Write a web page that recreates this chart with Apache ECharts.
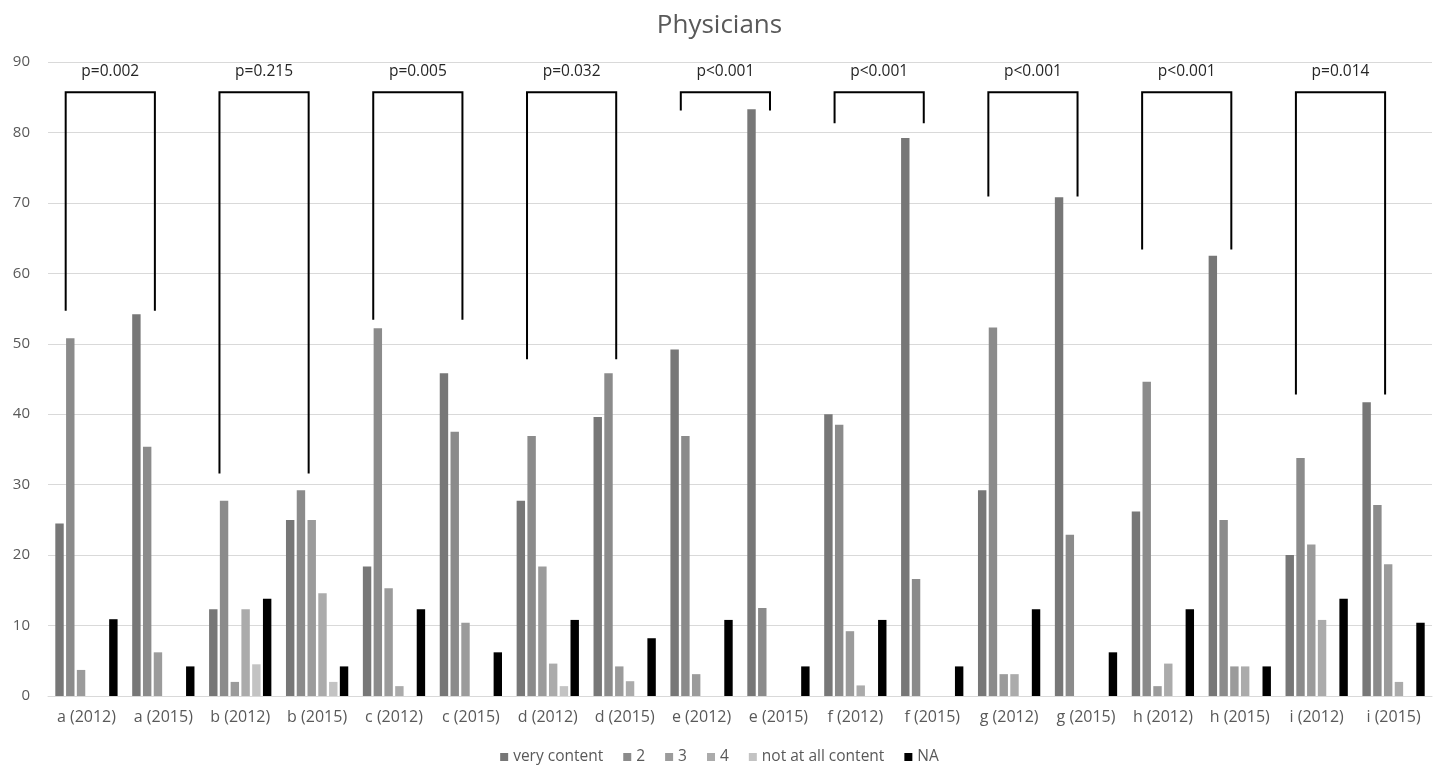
<!DOCTYPE html>
<html>
<head>
<meta charset="utf-8">
<script src="https://cdn.jsdelivr.net/npm/echarts@6/dist/echarts.min.js"></script>
<style>
html,body{margin:0;padding:0;background:#fff;}
#chart{width:1439px;height:765px;}
</style>
</head>
<body>
<div id="chart"></div>
<script>
const categories = ['a (2012)','a (2015)','b (2012)','b (2015)','c (2012)','c (2015)','d (2012)','d (2015)','e (2012)','e (2015)','f (2012)','f (2015)','g (2012)','g (2015)','h (2012)','h (2015)','i (2012)','i (2015)'];
const seriesNames = ['very content','2','3','4','not at all content','NA'];
const veryContent = [24.5,54.2,12.3,25.0,18.4,45.8,27.7,39.6,49.2,83.3,40.0,79.2,29.2,70.8,26.2,62.5,20.0,41.7];
const s2 = [50.8,35.4,27.7,29.2,52.2,37.5,36.9,45.8,36.9,12.5,38.5,16.6,52.3,22.9,44.6,25.0,33.8,27.1];
const s3 = [3.7,6.2,2.0,25.0,15.3,10.4,18.4,4.2,3.1,0,9.2,0,3.1,0,1.4,4.2,21.5,18.7];
const s4 = [0,0,12.3,14.6,1.4,0,4.6,2.1,0,0,1.5,0,3.1,0,4.6,4.2,10.8,2.0];
const notAtAll = [0,0,4.5,2.0,0,0,1.4,0,0,0,0,0,0,0,0,0,0,0];
const na = [10.9,4.2,13.8,4.2,12.3,6.2,10.8,8.2,10.8,4.2,10.8,4.2,12.3,6.2,12.3,4.2,13.8,10.4];
const yTicks = [0,10,20,30,40,50,60,70,80,90];

// significance brackets: pair of categories compared
const pLabels = ['p=0.002','p=0.215','p=0.005','p=0.032','p<0.001','p<0.001','p<0.001','p<0.001','p=0.014'];
const bracketLeft = [0,2,4,6,8,10,12,14,16];
const bracketRight = [1,3,5,7,9,11,13,15,17];
const bracketTop = [85.7,85.7,85.7,85.7,85.7,85.7,85.7,85.7,85.7];
const bracketLegEnd = [54.7,31.6,53.4,47.8,83.1,81.3,70.9,63.4,42.8];
const labelLevel = [88.6,88.6,88.6,88.6,88.6,88.6,88.6,88.6,88.6];

const colors = ['#777777','#8b8b8b','#9b9b9b','#ababab','#c3c3c3','#000000'];
const allData = [veryContent, s2, s3, s4, notAtAll, na];

const bracketData = pLabels.map((p,i)=>[bracketLeft[i],bracketRight[i],bracketTop[i],bracketLegEnd[i],labelLevel[i]]);

const chart = echarts.init(document.getElementById('chart'));
const FONT = '"Open Sans", "Liberation Sans", sans-serif';

const barSeries = seriesNames.map((n,i)=>({
  name: n,
  type: 'bar',
  data: allData[i],
  barGap: '28%',
  barCategoryGap: '19%',
  itemStyle: {color: colors[i]},
  emphasis: {disabled: true}
}));

chart.setOption({
  animation: false,
  color: colors,
  title: {
    text: 'Physicians',
    left: 'center',
    top: 8,
    textStyle: {fontFamily: FONT, fontSize: 26, fontWeight: 'normal', color: '#595959'}
  },
  legend: {
    data: seriesNames,
    top: 744,
    left: 'center',
    icon: 'rect',
    itemWidth: 8,
    itemHeight: 8,
    itemGap: 20,
    textStyle: {fontFamily: FONT, fontSize: 15.5, color: '#595959', padding: [0,0,0,0]}
  },
  grid: {left: 48, right: 7, top: 62, bottom: 69, containLabel: false},
  xAxis: {
    type: 'category',
    data: categories,
    axisLine: {lineStyle: {color: '#d9d9d9', width: 1}},
    axisTick: {show: false},
    axisLabel: {fontFamily: FONT, fontSize: 16, color: '#595959', margin: 13, interval: 0}
  },
  yAxis: {
    type: 'value',
    min: yTicks[0],
    max: yTicks[yTicks.length-1],
    interval: 10,
    axisLine: {show: false},
    axisTick: {show: false},
    axisLabel: {fontFamily: FONT, fontSize: 15, color: '#595959', margin: 18},
    splitLine: {lineStyle: {color: '#d9d9d9', width: 1}}
  },
  series: barSeries.concat([{
    type: 'custom',
    name: 'brackets',
    data: bracketData,
    silent: true,
    z: 10,
    encode: {x: [0,1], y: [2,3]},
    renderItem: function(params, api){
      const band = api.size([1,0])[0];
      const pL = api.coord([api.value(0), api.value(2)]);
      const pR = api.coord([api.value(1), api.value(2)]);
      const bottom = api.coord([api.value(0), api.value(3)])[1];
      const lab = api.coord([api.value(0), api.value(4)])[1];
      const xl = pL[0] - 0.27*band;
      const xr = pR[0] - 0.11*band;
      const yt = pL[1];
      return {
        type: 'group',
        children: [{
          type: 'polyline',
          shape: {points: [[xl,bottom],[xl,yt],[xr,yt],[xr,bottom]]},
          style: {stroke: '#000', lineWidth: 2, fill: null}
        },{
          type: 'text',
          style: {
            x: (xl+xr)/2, y: lab,
            text: pLabels[params.dataIndex],
            align: 'center', verticalAlign: 'middle',
            font: '15.5px ' + FONT,
            fill: '#262626'
          }
        }]
      };
    }
  }])
});
</script>
</body>
</html>
